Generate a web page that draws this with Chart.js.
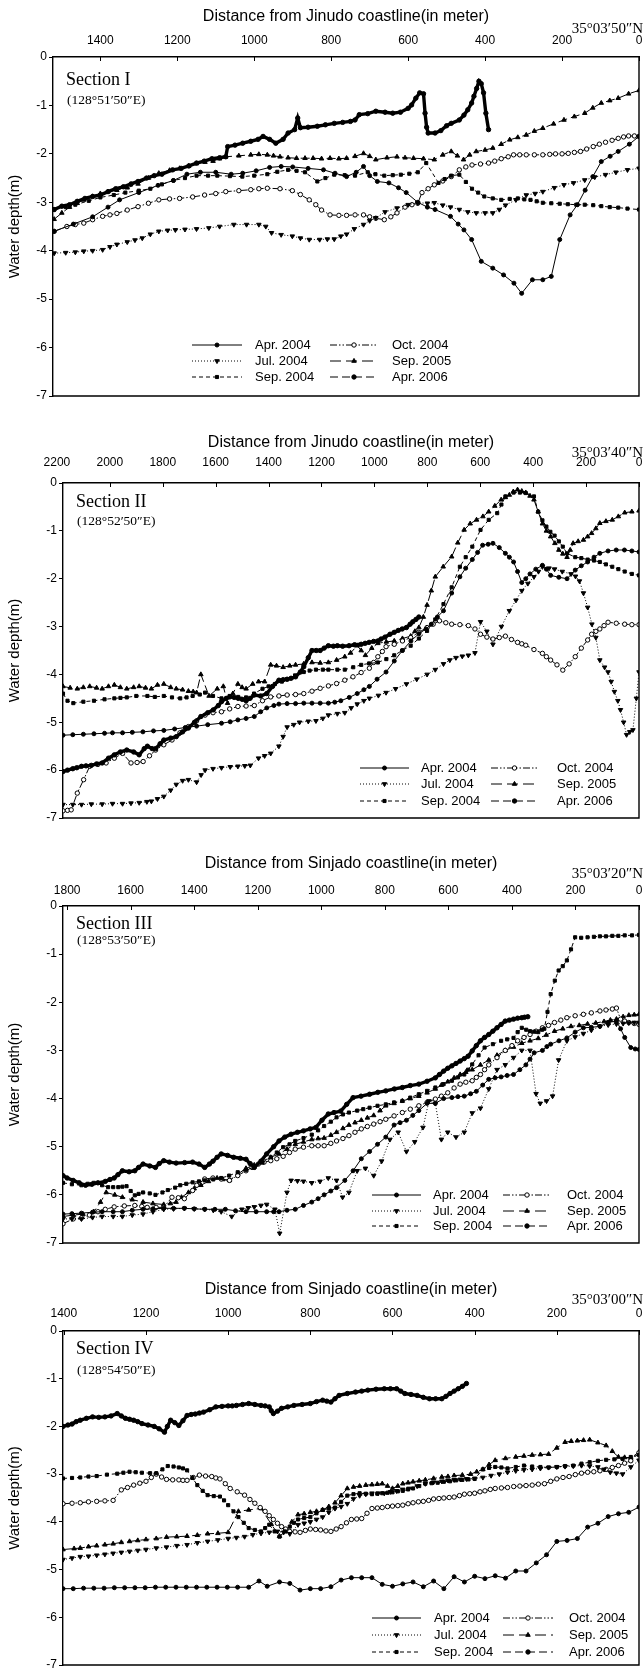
<!DOCTYPE html>
<html>
<head>
<meta charset="utf-8">
<script src="https://cdn.jsdelivr.net/npm/chart.js@4.4.1/dist/chart.umd.min.js"></script>
<style>
  html, body { margin: 0; padding: 0; background: #fff; }
  body { width: 644px; height: 1670px; position: relative; overflow: hidden; }
  canvas { position: absolute; left: 0; }
</style>
</head>
<body>
<canvas id="sec1"></canvas>
<canvas id="sec2"></canvas>
<canvas id="sec3"></canvas>
<canvas id="sec4"></canvas>
<script>
// ---- depth profiles: [distance from coastline (m), water depth (m)] ----
const seriesLabels = ['Apr. 2004', 'Jul. 2004', 'Sep. 2004', 'Oct. 2004', 'Sep. 2005', 'Apr. 2006'];
const yTicks = [0, -1, -2, -3, -4, -5, -6, -7];

// Section I
const xTicks1 = [0, 200, 400, 600, 800, 1000, 1200, 1400];
const sec1Apr2004 = [[1520,-3.6],[1470,-3.45],[1420,-3.3],[1380,-3.1],[1350,-2.95],[1300,-2.8],[1250,-2.65],[1210,-2.55],[1175,-2.42],[1140,-2.38],[1100,-2.38],[1060,-2.42],[1030,-2.4],[995,-2.35],[960,-2.28],[930,-2.26],[900,-2.27],[860,-2.3],[820,-2.33],[790,-2.4],[760,-2.47],[735,-2.38],[716,-2.26],[700,-2.45],[680,-2.57],[650,-2.6],[625,-2.7],[605,-2.8],[575,-3.0],[550,-3.1],[530,-3.15],[490,-3.29],[470,-3.45],[455,-3.57],[435,-3.77],[410,-4.22],[380,-4.36],[352,-4.5],[325,-4.67],[305,-4.88],[277,-4.6],[250,-4.6],[228,-4.53],[206,-3.77],[179,-3.26],[160,-3.05],[140,-2.75],[120,-2.47],[98,-2.16],[75,-2.05],[54,-1.95],[25,-1.8],[0,-1.64]];
const sec1Jul2004 = [[1520,-4.05],[1490,-4.04],[1465,-4.03],[1443,-4.01],[1420,-4.0],[1394,-3.98],[1375,-3.92],[1357,-3.87],[1330,-3.82],[1310,-3.78],[1291,-3.74],[1270,-3.66],[1248,-3.6],[1225,-3.58],[1205,-3.57],[1180,-3.56],[1150,-3.55],[1118,-3.53],[1090,-3.5],[1053,-3.46],[1020,-3.46],[988,-3.46],[970,-3.5],[955,-3.63],[930,-3.67],[901,-3.7],[880,-3.74],[857,-3.77],[830,-3.77],[810,-3.76],[792,-3.76],[775,-3.7],[760,-3.66],[740,-3.55],[716,-3.46],[700,-3.38],[684,-3.32],[660,-3.2],[629,-3.12],[600,-3.05],[575,-3.01],[550,-3.02],[532,-3.01],[510,-3.06],[490,-3.1],[467,-3.15],[445,-3.2],[423,-3.22],[400,-3.22],[380,-3.22],[363,-3.15],[347,-3.06],[320,-2.95],[293,-2.85],[270,-2.82],[250,-2.78],[220,-2.7],[195,-2.64],[170,-2.6],[141,-2.54],[115,-2.48],[87,-2.43],[60,-2.38],[30,-2.33],[0,-2.3]];
const sec1Sep2004 = [[1520,-3.15],[1490,-3.1],[1465,-3.05],[1430,-2.97],[1400,-2.9],[1365,-2.85],[1335,-2.8],[1300,-2.76],[1270,-2.72],[1240,-2.63],[1210,-2.55],[1180,-2.5],[1150,-2.45],[1120,-2.45],[1096,-2.45],[1063,-2.46],[1031,-2.47],[1000,-2.45],[966,-2.42],[940,-2.37],[912,-2.33],[890,-2.35],[868,-2.38],[836,-2.57],[815,-2.5],[792,-2.43],[765,-2.44],[738,-2.45],[705,-2.38],[685,-2.42],[662,-2.45],[640,-2.44],[619,-2.43],[597,-2.41],[575,-2.38],[553,-2.19],[521,-2.6],[505,-2.52],[488,-2.45],[467,-2.43],[450,-2.58],[434,-2.72],[418,-2.8],[402,-2.88],[380,-2.92],[358,-2.95],[336,-2.93],[315,-2.92],[298,-2.94],[282,-2.95],[266,-2.98],[250,-3.01],[228,-3.02],[206,-3.03],[185,-3.04],[163,-3.05],[141,-3.05],[119,-3.06],[98,-3.08],[76,-3.1],[54,-3.11],[30,-3.13],[0,-3.15]];
const sec1Oct2004 = [[1520,-3.6],[1487,-3.5],[1465,-3.46],[1443,-3.43],[1420,-3.36],[1394,-3.29],[1375,-3.26],[1357,-3.23],[1330,-3.16],[1302,-3.09],[1275,-3.02],[1248,-2.95],[1220,-2.93],[1194,-2.92],[1160,-2.89],[1129,-2.85],[1100,-2.82],[1074,-2.78],[1040,-2.76],[1009,-2.74],[988,-2.72],[966,-2.71],[933,-2.72],[901,-2.76],[880,-2.84],[857,-2.95],[840,-3.05],[825,-3.16],[803,-3.26],[780,-3.27],[760,-3.27],[738,-3.26],[716,-3.26],[700,-3.3],[684,-3.33],[662,-3.36],[645,-3.3],[629,-3.22],[608,-3.1],[590,-3.05],[575,-3.02],[564,-2.8],[548,-2.72],[532,-2.64],[510,-2.56],[488,-2.47],[467,-2.33],[450,-2.27],[434,-2.23],[412,-2.21],[391,-2.19],[375,-2.15],[358,-2.1],[340,-2.06],[326,-2.02],[310,-2.02],[293,-2.02],[272,-2.02],[250,-2.02],[232,-2.01],[217,-2.0],[200,-2.0],[184,-1.99],[168,-1.97],[152,-1.95],[136,-1.9],[119,-1.85],[103,-1.8],[87,-1.76],[70,-1.72],[54,-1.68],[40,-1.65],[27,-1.63],[12,-1.63],[0,-1.64]];
const sec1Sep2005 = [[1520,-3.35],[1500,-3.22],[1480,-3.1],[1460,-3.02],[1443,-2.95],[1420,-2.88],[1400,-2.82],[1380,-2.78],[1357,-2.75],[1330,-2.7],[1302,-2.62],[1275,-2.5],[1248,-2.4],[1220,-2.34],[1194,-2.3],[1170,-2.25],[1150,-2.2],[1128,-2.17],[1107,-2.15],[1090,-2.1],[1074,-2.06],[1040,-2.04],[1009,-2.02],[988,-2.01],[966,-2.02],[950,-2.04],[933,-2.06],[912,-2.08],[890,-2.09],[868,-2.09],[847,-2.09],[825,-2.1],[803,-2.09],[780,-2.1],[760,-2.09],[738,-2.05],[716,-1.99],[700,-2.05],[684,-2.12],[655,-2.08],[629,-2.06],[608,-2.08],[586,-2.09],[560,-2.1],[532,-2.12],[510,-2.02],[488,-1.95],[472,-2.04],[456,-2.12],[440,-2.02],[423,-1.95],[400,-1.92],[380,-1.88],[358,-1.8],[336,-1.71],[315,-1.66],[293,-1.61],[272,-1.53],[250,-1.47],[222,-1.38],[195,-1.3],[168,-1.23],[141,-1.16],[120,-1.05],[98,-0.95],[76,-0.9],[54,-0.85],[27,-0.76],[0,-0.69]];
const sec1Apr2006 = [[1520,-3.15],[1500,-3.08],[1480,-3.05],[1460,-2.98],[1440,-2.92],[1420,-2.88],[1400,-2.85],[1380,-2.78],[1360,-2.72],[1340,-2.68],[1320,-2.62],[1302,-2.57],[1280,-2.5],[1260,-2.45],[1240,-2.42],[1212,-2.33],[1190,-2.3],[1170,-2.25],[1150,-2.19],[1130,-2.15],[1110,-2.1],[1090,-2.08],[1074,-2.06],[1069,-1.85],[1050,-1.82],[1030,-1.78],[1009,-1.74],[990,-1.7],[977,-1.64],[960,-1.7],[944,-1.78],[925,-1.7],[912,-1.57],[895,-1.5],[887,-1.26],[880,-1.46],[860,-1.45],[836,-1.43],[815,-1.4],[792,-1.37],[770,-1.35],[750,-1.33],[738,-1.3],[727,-1.19],[705,-1.17],[684,-1.12],[660,-1.14],[640,-1.16],[620,-1.14],[600,-1.06],[591,-0.99],[580,-0.85],[570,-0.74],[560,-0.76],[556,-1.16],[552,-1.45],[548,-1.57],[530,-1.57],[515,-1.52],[500,-1.42],[488,-1.37],[467,-1.3],[455,-1.2],[445,-1.09],[435,-0.95],[429,-0.81],[422,-0.65],[416,-0.5],[410,-0.55],[404,-0.74],[398,-1.16],[391,-1.5]];

// Section II
const xTicks2 = [0, 200, 400, 600, 800, 1000, 1200, 1400, 1600, 1800, 2000, 2200];
const sec2Apr2004 = [[2177,-5.27],[2140,-5.26],[2100,-5.25],[2060,-5.24],[2020,-5.23],[1990,-5.22],[1952,-5.22],[1915,-5.21],[1875,-5.2],[1835,-5.18],[1796,-5.17],[1755,-5.14],[1715,-5.11],[1672,-5.08],[1630,-5.05],[1578,-5.02],[1545,-4.99],[1516,-4.95],[1485,-4.92],[1454,-4.88],[1430,-4.78],[1407,-4.7],[1380,-4.65],[1361,-4.62],[1330,-4.61],[1298,-4.61],[1267,-4.6],[1236,-4.6],[1205,-4.6],[1174,-4.6],[1150,-4.58],[1127,-4.55],[1095,-4.48],[1065,-4.4],[1040,-4.32],[1019,-4.25],[990,-4.1],[956,-3.95],[925,-3.72],[894,-3.5],[862,-3.3],[832,-3.15],[805,-3.05],[785,-2.95],[762,-2.8],[739,-2.67],[708,-2.3],[677,-1.96],[655,-1.78],[630,-1.6],[610,-1.45],[591,-1.3],[570,-1.28],[552,-1.26],[528,-1.35],[505,-1.47],[490,-1.55],[474,-1.65],[459,-1.85],[443,-2.08],[428,-2.0],[412,-1.9],[390,-1.8],[365,-1.72],[350,-1.8],[334,-1.93],[303,-1.97],[272,-2.0],[241,-1.82],[218,-1.73],[194,-1.65],[170,-1.55],[148,-1.47],[117,-1.42],[86,-1.4],[55,-1.4],[27,-1.42],[0,-1.44]];
const sec2Jul2004 = [[2177,-6.72],[2140,-6.72],[2107,-6.72],[2070,-6.71],[2029,-6.71],[1990,-6.7],[1952,-6.7],[1920,-6.69],[1889,-6.68],[1860,-6.66],[1843,-6.65],[1820,-6.6],[1796,-6.55],[1770,-6.42],[1749,-6.3],[1725,-6.22],[1703,-6.2],[1672,-6.25],[1655,-6.1],[1640,-6.0],[1610,-5.97],[1578,-5.95],[1545,-5.93],[1516,-5.92],[1490,-5.91],[1469,-5.9],[1438,-5.75],[1415,-5.7],[1392,-5.65],[1361,-5.5],[1345,-5.3],[1330,-5.1],[1305,-5.05],[1283,-5.0],[1250,-4.98],[1221,-4.97],[1195,-4.92],[1174,-4.85],[1140,-4.82],[1112,-4.8],[1088,-4.7],[1065,-4.62],[1040,-4.55],[1019,-4.5],[985,-4.44],[956,-4.38],[920,-4.3],[879,-4.2],[840,-4.1],[801,-4.0],[770,-3.9],[739,-3.78],[715,-3.7],[692,-3.65],[668,-3.62],[645,-3.6],[620,-3.55],[599,-2.9],[575,-3.1],[552,-3.37],[520,-3.0],[490,-2.67],[465,-2.45],[443,-2.25],[420,-2.1],[397,-1.96],[380,-1.85],[365,-1.75],[340,-1.78],[319,-1.8],[290,-1.85],[257,-1.9],[240,-1.95],[225,-2.05],[210,-2.3],[194,-2.6],[178,-2.95],[163,-3.23],[148,-3.7],[130,-3.85],[117,-3.95],[105,-4.15],[93,-4.36],[80,-4.55],[70,-4.74],[58,-5.0],[47,-5.26],[35,-5.2],[23,-5.16],[10,-4.5],[0,-3.95]];
const sec2Sep2004 = [[2177,-4.4],[2160,-4.55],[2138,-4.6],[2100,-4.57],[2060,-4.55],[2020,-4.52],[1983,-4.5],[1960,-4.49],[1936,-4.48],[1900,-4.45],[1858,-4.45],[1830,-4.47],[1796,-4.45],[1765,-4.48],[1734,-4.5],[1710,-4.48],[1687,-4.45],[1660,-4.42],[1640,-4.38],[1610,-4.45],[1578,-4.5],[1547,-4.45],[1515,-4.47],[1485,-4.48],[1455,-4.4],[1423,-4.3],[1400,-4.25],[1376,-4.2],[1350,-4.15],[1330,-4.1],[1300,-4.02],[1267,-3.95],[1245,-3.92],[1221,-3.9],[1195,-3.9],[1174,-3.9],[1140,-3.9],[1112,-3.9],[1080,-3.85],[1050,-3.8],[1020,-3.77],[987,-3.75],[955,-3.68],[925,-3.6],[895,-3.5],[863,-3.4],[832,-3.25],[801,-3.09],[770,-2.85],[739,-2.53],[708,-2.18],[677,-1.75],[655,-1.55],[630,-1.33],[599,-0.98],[568,-0.77],[536,-0.63],[520,-0.45],[505,-0.28],[474,-0.2],[450,-0.2],[428,-0.21],[397,-0.28],[381,-0.6],[365,-0.78],[350,-0.91],[335,-1.02],[319,-1.1],[303,-1.22],[288,-1.33],[272,-1.47],[241,-1.55],[218,-1.57],[194,-1.6],[170,-1.62],[148,-1.65],[125,-1.7],[101,-1.75],[78,-1.8],[54,-1.85],[27,-1.9],[0,-1.93]];
const sec2Oct2004 = [[2177,-6.85],[2160,-6.84],[2146,-6.83],[2123,-6.48],[2099,-6.2],[2076,-5.92],[2045,-5.88],[2014,-5.85],[1983,-5.75],[1952,-5.65],[1920,-5.85],[1897,-5.84],[1874,-5.82],[1850,-5.7],[1827,-5.58],[1796,-5.47],[1765,-5.37],[1735,-5.22],[1703,-5.09],[1672,-4.97],[1640,-4.85],[1610,-4.8],[1578,-4.78],[1547,-4.72],[1516,-4.67],[1485,-4.66],[1454,-4.65],[1423,-4.55],[1392,-4.47],[1361,-4.45],[1330,-4.43],[1298,-4.42],[1267,-4.4],[1236,-4.35],[1205,-4.29],[1174,-4.24],[1143,-4.19],[1112,-4.12],[1081,-4.05],[1050,-3.96],[1019,-3.87],[1003,-3.75],[987,-3.63],[970,-3.52],[956,-3.42],[925,-3.37],[894,-3.3],[863,-3.23],[832,-3.12],[801,-3.02],[778,-2.95],[754,-2.88],[730,-2.92],[708,-2.95],[677,-2.96],[645,-2.98],[620,-3.05],[599,-3.16],[575,-3.22],[552,-3.26],[528,-3.23],[505,-3.2],[482,-3.27],[459,-3.33],[443,-3.36],[428,-3.39],[397,-3.48],[365,-3.56],[350,-3.63],[334,-3.7],[310,-3.8],[288,-3.91],[264,-3.78],[241,-3.63],[218,-3.45],[194,-3.28],[179,-3.16],[163,-3.1],[148,-3.05],[132,-2.98],[117,-2.91],[86,-2.93],[54,-2.95],[27,-2.96],[0,-2.96]];
const sec2Sep2005 = [[2177,-4.25],[2150,-4.28],[2123,-4.3],[2100,-4.27],[2076,-4.25],[2050,-4.28],[2029,-4.3],[2005,-4.25],[1983,-4.22],[1960,-4.27],[1936,-4.3],[1910,-4.27],[1889,-4.25],[1865,-4.28],[1843,-4.3],[1820,-4.22],[1796,-4.2],[1770,-4.27],[1749,-4.3],[1725,-4.32],[1703,-4.35],[1685,-4.36],[1672,-4.38],[1656,-4.0],[1625,-4.45],[1594,-4.3],[1571,-4.25],[1555,-4.6],[1535,-4.4],[1516,-4.2],[1500,-4.27],[1485,-4.3],[1460,-4.2],[1438,-4.15],[1415,-4.15],[1392,-3.8],[1370,-3.82],[1345,-3.85],[1320,-3.82],[1298,-3.8],[1267,-3.78],[1236,-3.75],[1205,-3.76],[1174,-3.75],[1143,-3.7],[1112,-3.63],[1090,-3.55],[1065,-3.4],[1050,-3.5],[1034,-3.6],[1010,-3.45],[987,-3.35],[955,-3.32],[925,-3.3],[894,-3.25],[863,-3.2],[847,-3.1],[832,-3.02],[815,-2.8],[801,-2.55],[785,-2.25],[770,-1.96],[740,-1.75],[708,-1.54],[685,-1.25],[661,-0.98],[638,-0.85],[614,-0.77],[590,-0.7],[568,-0.6],[545,-0.48],[521,-0.35],[505,-0.3],[490,-0.25],[475,-0.18],[459,-0.14],[443,-0.17],[428,-0.2],[412,-0.27],[397,-0.35],[381,-0.6],[365,-0.85],[350,-1.0],[334,-1.12],[318,-1.26],[303,-1.4],[288,-1.48],[272,-1.55],[260,-1.4],[249,-1.26],[230,-1.22],[210,-1.19],[194,-1.12],[179,-1.05],[163,-0.95],[148,-0.84],[125,-0.8],[101,-0.77],[78,-0.7],[54,-0.62],[27,-0.6],[0,-0.58]];
const sec2Apr2006 = [[2177,-6.03],[2160,-6.0],[2140,-5.97],[2125,-5.95],[2107,-5.92],[2090,-5.91],[2070,-5.9],[2050,-5.87],[2029,-5.85],[2005,-5.75],[1983,-5.68],[1960,-5.62],[1936,-5.58],[1910,-5.62],[1889,-5.68],[1870,-5.55],[1858,-5.5],[1840,-5.55],[1827,-5.55],[1810,-5.45],[1796,-5.37],[1770,-5.33],[1749,-5.3],[1725,-5.2],[1703,-5.12],[1680,-5.0],[1656,-4.88],[1630,-4.8],[1609,-4.74],[1590,-4.65],[1578,-4.57],[1560,-4.5],[1547,-4.47],[1530,-4.48],[1515,-4.5],[1500,-4.52],[1485,-4.55],[1470,-4.5],[1454,-4.43],[1430,-4.45],[1407,-4.4],[1385,-4.25],[1361,-4.12],[1345,-4.11],[1330,-4.1],[1315,-4.08],[1298,-4.05],[1280,-3.95],[1267,-3.84],[1250,-3.65],[1236,-3.5],[1220,-3.5],[1205,-3.5],[1190,-3.45],[1174,-3.4],[1155,-3.41],[1140,-3.4],[1120,-3.41],[1096,-3.4],[1075,-3.38],[1050,-3.37],[1035,-3.35],[1020,-3.33],[1003,-3.31],[987,-3.3],[975,-3.26],[960,-3.22],[941,-3.16],[925,-3.12],[910,-3.08],[895,-3.05],[879,-3.02],[865,-2.95],[855,-2.9],[843,-2.85],[832,-2.8]];

// Section III
const xTicks3 = [0, 200, 400, 600, 800, 1000, 1200, 1400, 1600, 1800];
const sec3Apr2004 = [[1813,-6.4],[1785,-6.39],[1755,-6.38],[1720,-6.36],[1690,-6.35],[1655,-6.35],[1626,-6.35],[1595,-6.32],[1561,-6.3],[1530,-6.29],[1496,-6.28],[1465,-6.28],[1431,-6.28],[1400,-6.29],[1367,-6.3],[1335,-6.3],[1302,-6.3],[1270,-6.33],[1237,-6.35],[1205,-6.35],[1172,-6.35],[1150,-6.35],[1133,-6.35],[1108,-6.32],[1082,-6.3],[1056,-6.22],[1030,-6.15],[1010,-6.08],[991,-6.0],[970,-5.92],[952,-5.85],[926,-5.7],[900,-5.5],[874,-5.25],[848,-5.1],[823,-4.95],[797,-4.8],[771,-4.55],[752,-4.5],[732,-4.45],[712,-4.35],[693,-4.25],[667,-4.1],[641,-4.1],[615,-4.0],[589,-3.98],[570,-3.96],[550,-3.95],[530,-3.9],[512,-3.85],[492,-3.72],[473,-3.6],[453,-3.57],[434,-3.55],[415,-3.52],[395,-3.5],[375,-3.4],[356,-3.3],[343,-3.18],[330,-3.05],[304,-3.0],[290,-2.92],[278,-2.87],[252,-2.8],[227,-2.74],[201,-2.62],[175,-2.53],[150,-2.52],[123,-2.5],[97,-2.42],[71,-2.39],[58,-2.55],[45,-2.73],[26,-2.94],[12,-2.97],[0,-2.98]];
const sec3Jul2004 = [[1813,-6.5],[1785,-6.5],[1755,-6.5],[1720,-6.47],[1690,-6.45],[1655,-6.45],[1626,-6.45],[1595,-6.42],[1561,-6.4],[1530,-6.35],[1496,-6.3],[1465,-6.29],[1431,-6.28],[1400,-6.29],[1367,-6.3],[1340,-6.32],[1315,-6.35],[1282,-6.45],[1250,-6.3],[1230,-6.27],[1211,-6.25],[1190,-6.22],[1172,-6.2],[1146,-6.3],[1131,-6.8],[1108,-5.95],[1095,-5.7],[1075,-5.71],[1056,-5.72],[1030,-5.75],[1004,-5.72],[978,-5.65],[952,-5.7],[933,-6.05],[913,-5.95],[887,-5.5],[861,-5.45],[835,-5.6],[810,-5.3],[784,-4.85],[758,-4.7],[732,-5.1],[706,-4.9],[680,-4.6],[661,-4.05],[641,-4.1],[622,-4.85],[602,-4.7],[576,-4.8],[550,-4.7],[525,-4.3],[499,-4.2],[473,-3.8],[447,-3.4],[421,-3.3],[395,-3.15],[369,-3.0],[343,-3.0],[324,-3.9],[311,-4.1],[291,-4.05],[272,-3.95],[253,-3.2],[227,-2.8],[201,-2.72],[175,-2.65],[150,-2.58],[123,-2.5],[97,-2.47],[71,-2.45],[50,-2.44],[32,-2.43],[15,-2.42],[0,-2.42]];
const sec3Sep2004 = [[1813,-5.75],[1785,-5.78],[1755,-5.8],[1735,-5.77],[1716,-5.75],[1690,-5.8],[1671,-5.84],[1655,-5.84],[1639,-5.84],[1626,-5.83],[1613,-5.82],[1600,-5.92],[1587,-6.01],[1575,-5.98],[1561,-5.95],[1540,-5.97],[1522,-6.0],[1500,-5.95],[1483,-5.9],[1460,-5.85],[1444,-5.8],[1425,-5.77],[1405,-5.74],[1385,-5.72],[1367,-5.7],[1340,-5.68],[1315,-5.65],[1290,-5.6],[1263,-5.53],[1237,-5.48],[1211,-5.43],[1185,-5.33],[1159,-5.22],[1140,-5.12],[1120,-5.01],[1100,-4.95],[1082,-4.88],[1056,-4.82],[1030,-4.75],[1010,-4.66],[991,-4.57],[970,-4.48],[952,-4.39],[932,-4.33],[913,-4.29],[887,-4.25],[868,-4.22],[848,-4.19],[823,-4.15],[797,-4.12],[771,-4.08],[745,-4.05],[720,-3.98],[693,-3.91],[667,-3.84],[641,-3.77],[615,-3.7],[589,-3.63],[570,-3.56],[550,-3.5],[538,-3.4],[525,-3.29],[505,-3.1],[486,-2.94],[460,-2.87],[434,-2.8],[415,-2.77],[395,-2.74],[382,-2.62],[369,-2.53],[355,-2.57],[343,-2.6],[330,-2.61],[317,-2.62],[305,-2.57],[298,-2.55],[288,-2.2],[278,-1.83],[265,-1.55],[253,-1.34],[240,-1.25],[227,-1.13],[214,-0.9],[201,-0.65],[182,-0.66],[162,-0.65],[142,-0.64],[123,-0.63],[104,-0.63],[84,-0.62],[65,-0.62],[45,-0.61],[22,-0.61],[0,-0.6]];
const sec3Oct2004 = [[1813,-6.6],[1781,-6.5],[1755,-6.48],[1730,-6.42],[1703,-6.35],[1680,-6.3],[1652,-6.25],[1620,-6.23],[1587,-6.22],[1565,-6.24],[1548,-6.26],[1520,-6.26],[1496,-6.26],[1470,-6.05],[1450,-6.06],[1431,-6.08],[1405,-5.91],[1392,-5.8],[1367,-5.67],[1341,-5.65],[1315,-5.67],[1289,-5.7],[1263,-5.6],[1237,-5.5],[1218,-5.43],[1198,-5.36],[1180,-5.32],[1159,-5.29],[1140,-5.25],[1120,-5.2],[1100,-5.12],[1082,-5.05],[1056,-5.01],[1030,-4.98],[1010,-4.98],[991,-4.98],[970,-4.93],[952,-4.88],[932,-4.83],[913,-4.77],[894,-4.7],[874,-4.63],[855,-4.58],[835,-4.53],[815,-4.48],[797,-4.43],[771,-4.36],[745,-4.29],[720,-4.22],[693,-4.15],[667,-4.08],[641,-4.01],[622,-3.95],[602,-3.88],[582,-3.78],[563,-3.7],[545,-3.66],[525,-3.63],[512,-3.56],[499,-3.5],[486,-3.4],[473,-3.3],[447,-3.15],[421,-3.0],[400,-2.9],[382,-2.8],[362,-2.73],[343,-2.67],[324,-2.6],[304,-2.53],[285,-2.48],[266,-2.42],[246,-2.37],[227,-2.32],[201,-2.28],[175,-2.25],[150,-2.22],[123,-2.18],[104,-2.16],[84,-2.14],[71,-2.12],[58,-2.35],[45,-2.39],[32,-2.42],[15,-2.44],[0,-2.46]];
const sec3Sep2005 = [[1813,-6.45],[1780,-6.42],[1750,-6.4],[1716,-6.35],[1695,-6.15],[1677,-5.95],[1650,-6.0],[1626,-6.05],[1595,-6.1],[1561,-6.15],[1530,-6.18],[1496,-6.2],[1475,-6.18],[1457,-6.15],[1440,-6.05],[1418,-5.95],[1400,-5.87],[1379,-5.8],[1355,-5.72],[1328,-5.65],[1310,-5.68],[1289,-5.7],[1263,-5.57],[1237,-5.45],[1211,-5.38],[1185,-5.3],[1159,-5.22],[1133,-5.15],[1108,-5.05],[1082,-4.95],[1056,-4.9],[1030,-4.85],[1010,-4.83],[991,-4.82],[970,-4.76],[952,-4.7],[932,-4.62],[913,-4.55],[894,-4.5],[874,-4.45],[855,-4.4],[835,-4.35],[815,-4.25],[797,-4.15],[771,-4.1],[745,-4.05],[720,-4.0],[693,-3.95],[667,-3.88],[641,-3.8],[622,-3.72],[602,-3.65],[582,-3.57],[563,-3.5],[545,-3.45],[525,-3.4],[499,-3.3],[473,-3.2],[447,-3.1],[421,-3.0],[395,-2.93],[369,-2.85],[343,-2.8],[317,-2.75],[292,-2.68],[266,-2.6],[240,-2.55],[214,-2.5],[188,-2.48],[162,-2.45],[136,-2.43],[110,-2.4],[90,-2.37],[71,-2.35],[50,-2.3],[32,-2.27],[15,-2.26],[0,-2.25]];
const sec3Apr2006 = [[1813,-5.6],[1800,-5.65],[1781,-5.7],[1762,-5.75],[1742,-5.8],[1722,-5.78],[1703,-5.75],[1680,-5.72],[1665,-5.68],[1652,-5.65],[1640,-5.58],[1626,-5.5],[1605,-5.52],[1587,-5.5],[1575,-5.43],[1561,-5.36],[1540,-5.4],[1522,-5.43],[1510,-5.35],[1496,-5.29],[1478,-5.32],[1457,-5.34],[1430,-5.33],[1405,-5.32],[1385,-5.36],[1367,-5.43],[1352,-5.36],[1341,-5.3],[1328,-5.22],[1315,-5.15],[1295,-5.18],[1276,-5.22],[1255,-5.24],[1237,-5.26],[1224,-5.35],[1211,-5.43],[1190,-5.3],[1172,-5.15],[1150,-5.0],[1133,-4.88],[1115,-4.8],[1095,-4.74],[1075,-4.7],[1056,-4.67],[1035,-4.63],[1017,-4.6],[998,-4.45],[978,-4.32],[960,-4.29],[939,-4.26],[920,-4.12],[900,-3.98],[875,-3.95],[848,-3.91],[822,-3.87],[797,-3.84],[770,-3.8],[745,-3.77],[720,-3.73],[693,-3.7],[667,-3.64],[641,-3.57],[628,-3.5],[615,-3.43],[602,-3.37],[589,-3.32],[576,-3.27],[563,-3.22],[550,-3.17],[538,-3.12],[525,-3.01],[512,-2.9],[499,-2.8],[486,-2.73],[473,-2.67],[460,-2.6],[447,-2.53],[434,-2.46],[421,-2.39],[408,-2.37],[395,-2.35],[382,-2.33],[369,-2.32],[360,-2.31],[350,-2.3]];

// Section IV
const xTicks4 = [0, 200, 400, 600, 800, 1000, 1200, 1400];
const sec4Apr2004 = [[1402,-5.4],[1377,-5.4],[1352,-5.39],[1327,-5.39],[1302,-5.39],[1277,-5.38],[1252,-5.38],[1227,-5.38],[1202,-5.38],[1177,-5.37],[1152,-5.37],[1127,-5.37],[1102,-5.37],[1077,-5.37],[1052,-5.37],[1027,-5.37],[1002,-5.37],[977,-5.37],[950,-5.37],[925,-5.24],[905,-5.35],[875,-5.26],[850,-5.29],[825,-5.43],[800,-5.4],[775,-5.4],[750,-5.36],[725,-5.22],[700,-5.17],[675,-5.17],[650,-5.17],[625,-5.31],[600,-5.35],[575,-5.3],[550,-5.26],[525,-5.36],[500,-5.24],[475,-5.4],[450,-5.15],[425,-5.26],[400,-5.14],[375,-5.19],[350,-5.13],[325,-5.18],[300,-5.03],[275,-5.03],[250,-4.86],[225,-4.69],[200,-4.41],[175,-4.39],[150,-4.35],[125,-4.11],[100,-4.03],[75,-3.89],[50,-3.83],[25,-3.8],[0,-3.69]];
const sec4Jul2004 = [[1402,-4.79],[1380,-4.76],[1360,-4.73],[1340,-4.72],[1320,-4.7],[1300,-4.68],[1280,-4.66],[1260,-4.64],[1240,-4.62],[1220,-4.6],[1200,-4.58],[1175,-4.55],[1150,-4.53],[1125,-4.5],[1100,-4.48],[1075,-4.44],[1050,-4.41],[1025,-4.38],[1000,-4.35],[980,-4.33],[960,-4.31],[940,-4.27],[920,-4.24],[900,-4.22],[880,-4.2],[865,-4.22],[850,-4.25],[830,-4.06],[815,-4.03],[800,-4.0],[785,-3.95],[770,-3.9],[755,-3.8],[740,-3.72],[725,-3.68],[710,-3.62],[695,-3.52],[680,-3.45],[665,-3.42],[650,-3.4],[635,-3.4],[620,-3.4],[605,-3.37],[590,-3.35],[575,-3.32],[560,-3.3],[540,-3.25],[520,-3.2],[500,-3.17],[480,-3.15],[465,-3.13],[450,-3.12],[435,-3.11],[420,-3.1],[400,-3.09],[380,-3.07],[360,-3.03],[340,-3.0],[320,-2.96],[300,-2.93],[280,-2.91],[260,-2.9],[240,-2.88],[220,-2.86],[200,-2.85],[180,-2.84],[160,-2.83],[140,-2.82],[120,-2.83],[100,-2.85],[85,-2.9],[70,-2.96],[55,-2.98],[40,-3.0],[20,-2.85],[0,-2.71]];
const sec4Sep2004 = [[1402,-3.09],[1380,-3.08],[1360,-3.07],[1340,-3.05],[1320,-3.04],[1295,-3.01],[1270,-2.99],[1255,-2.97],[1240,-2.95],[1225,-2.96],[1210,-2.97],[1190,-2.98],[1175,-2.98],[1160,-2.9],[1147,-2.83],[1133,-2.84],[1120,-2.86],[1110,-2.88],[1100,-2.92],[1087,-3.08],[1075,-3.23],[1062,-3.35],[1050,-3.44],[1035,-3.46],[1020,-3.47],[1010,-3.55],[1000,-3.65],[987,-3.78],[975,-3.9],[962,-4.02],[950,-4.13],[935,-4.17],[920,-4.2],[910,-4.13],[900,-4.06],[887,-4.2],[875,-4.31],[862,-4.2],[850,-4.1],[840,-4.02],[830,-3.95],[815,-3.92],[800,-3.9],[785,-3.82],[770,-3.75],[755,-3.72],[740,-3.7],[725,-3.58],[710,-3.45],[695,-3.42],[680,-3.4],[665,-3.41],[650,-3.42],[637,-3.41],[625,-3.4],[612,-3.39],[600,-3.38],[587,-3.36],[575,-3.35],[562,-3.32],[550,-3.3],[535,-3.25],[520,-3.2],[505,-3.19],[490,-3.18],[475,-3.16],[460,-3.15],[445,-3.13],[430,-3.12],[415,-3.11],[400,-3.1],[380,-2.9],[365,-2.87],[350,-2.85],[335,-2.86],[320,-2.88],[300,-2.85],[280,-2.82],[260,-2.84],[240,-2.85],[220,-2.86],[200,-2.85],[180,-2.83],[160,-2.82],[140,-2.78],[120,-2.75],[100,-2.72],[80,-2.7],[60,-2.69],[40,-2.68],[20,-2.64],[0,-2.6]];
const sec4Oct2004 = [[1402,-3.62],[1380,-3.61],[1360,-3.6],[1340,-3.58],[1320,-3.57],[1300,-3.56],[1280,-3.55],[1260,-3.33],[1245,-3.28],[1230,-3.23],[1215,-3.19],[1200,-3.15],[1187,-3.07],[1175,-3.0],[1162,-3.06],[1150,-3.11],[1135,-3.12],[1120,-3.12],[1110,-3.13],[1100,-3.13],[1085,-3.07],[1070,-3.02],[1055,-3.04],[1040,-3.05],[1030,-3.08],[1020,-3.1],[1007,-3.2],[995,-3.3],[978,-3.37],[960,-3.44],[947,-3.53],[935,-3.61],[922,-3.7],[910,-3.78],[900,-3.87],[890,-3.95],[880,-4.03],[870,-4.1],[860,-4.15],[850,-4.2],[837,-4.21],[825,-4.22],[812,-4.18],[800,-4.15],[787,-4.16],[775,-4.17],[762,-4.19],[750,-4.2],[737,-4.15],[725,-4.1],[712,-4.02],[700,-3.95],[687,-3.94],[675,-3.93],[662,-3.82],[650,-3.72],[637,-3.71],[625,-3.7],[612,-3.68],[600,-3.67],[587,-3.66],[575,-3.65],[562,-3.62],[550,-3.6],[537,-3.58],[525,-3.57],[512,-3.55],[500,-3.52],[487,-3.51],[475,-3.5],[462,-3.49],[450,-3.48],[437,-3.45],[425,-3.42],[412,-3.41],[400,-3.4],[387,-3.37],[375,-3.35],[362,-3.32],[350,-3.3],[335,-3.29],[320,-3.28],[305,-3.26],[290,-3.25],[275,-3.24],[260,-3.23],[245,-3.21],[230,-3.2],[215,-3.15],[200,-3.1],[185,-3.07],[170,-3.05],[155,-3.01],[140,-2.98],[125,-2.96],[110,-2.95],[95,-2.93],[80,-2.9],[65,-2.86],[50,-2.82],[35,-2.77],[20,-2.72],[0,-2.55]];
const sec4Sep2005 = [[1402,-4.58],[1375,-4.56],[1360,-4.55],[1340,-4.52],[1320,-4.5],[1300,-4.48],[1280,-4.46],[1260,-4.43],[1240,-4.41],[1220,-4.39],[1200,-4.37],[1175,-4.35],[1150,-4.32],[1125,-4.31],[1100,-4.3],[1075,-4.28],[1050,-4.25],[1025,-4.24],[1000,-4.22],[975,-3.78],[950,-3.75],[920,-3.72],[895,-4.05],[875,-4.3],[860,-4.2],[845,-4.0],[830,-3.85],[815,-3.83],[800,-3.8],[785,-3.78],[770,-3.75],[755,-3.68],[740,-3.6],[725,-3.45],[710,-3.3],[695,-3.27],[680,-3.25],[665,-3.23],[650,-3.22],[637,-3.21],[625,-3.2],[612,-3.25],[600,-3.3],[587,-3.25],[575,-3.2],[562,-3.18],[550,-3.16],[535,-3.14],[520,-3.12],[500,-3.09],[480,-3.06],[465,-3.05],[450,-3.03],[430,-3.02],[410,-3.0],[395,-2.95],[380,-2.9],[365,-2.8],[350,-2.71],[325,-2.67],[300,-2.64],[280,-2.62],[260,-2.6],[240,-2.59],[220,-2.58],[200,-2.45],[180,-2.33],[165,-2.31],[150,-2.3],[135,-2.29],[120,-2.28],[100,-2.34],[80,-2.4],[65,-2.52],[50,-2.64],[35,-2.65],[20,-2.66],[0,-2.54]];
const sec4Apr2006 = [[1402,-2.0],[1390,-1.97],[1380,-1.95],[1370,-1.9],[1360,-1.87],[1345,-1.83],[1330,-1.8],[1315,-1.81],[1300,-1.8],[1285,-1.78],[1270,-1.73],[1260,-1.78],[1250,-1.83],[1240,-1.85],[1230,-1.87],[1220,-1.9],[1210,-1.94],[1195,-1.97],[1180,-2.0],[1168,-2.05],[1155,-2.12],[1148,-2.0],[1140,-1.87],[1130,-1.92],[1120,-1.98],[1110,-1.88],[1100,-1.77],[1090,-1.75],[1080,-1.74],[1070,-1.72],[1060,-1.7],[1045,-1.65],[1030,-1.59],[1015,-1.58],[1000,-1.57],[990,-1.57],[980,-1.56],[965,-1.54],[950,-1.52],[935,-1.54],[920,-1.56],[910,-1.57],[900,-1.59],[895,-1.67],[890,-1.73],[880,-1.68],[870,-1.62],[855,-1.59],[840,-1.56],[820,-1.54],[800,-1.52],[785,-1.48],[770,-1.45],[760,-1.47],[750,-1.49],[740,-1.42],[730,-1.35],[710,-1.31],[690,-1.28],[675,-1.26],[660,-1.24],[640,-1.22],[620,-1.21],[605,-1.21],[590,-1.21],[580,-1.26],[570,-1.31],[555,-1.33],[540,-1.35],[525,-1.39],[510,-1.42],[495,-1.42],[480,-1.42],[470,-1.37],[460,-1.31],[450,-1.26],[440,-1.21],[430,-1.16],[420,-1.1]];

// ---- line styles per survey (same order as seriesLabels) ----
const seriesStyle = [
  { dash: [], legendDash: [], point: 'circle', radius: 2, fill: '#000', width: 1 },
  { dash: [1, 2], legendDash: [1, 2], point: 'triangle', rotation: 180, radius: 2.6, fill: '#000', width: 1 },
  { dash: [4, 3], legendDash: [4, 3], point: 'rect', radius: 2.2, fill: '#000', width: 1 },
  { dash: [7, 2, 1.5, 2, 1.5, 2], legendDash: [7, 2, 1.5, 2, 1.5, 2], point: 'circle', radius: 2.2, fill: '#fff', width: 1 },
  { dash: [9, 4], legendDash: [11, 5], point: 'triangle', radius: 2.6, fill: '#000', width: 1 },
  { dash: [], legendDash: [8, 4], point: 'circle', radius: 2.2, fill: '#000', width: 3.4 }
];

const SANS = "'Liberation Sans', Arial, sans-serif";
const SERIF = "'Liberation Serif', 'Times New Roman', serif";

// draws the frame, inward top ticks, captions and the inset legend
const sectionFrame = {
  id: 'sectionFrame',
  afterDraw(chart, args, o) {
    const { ctx, chartArea: a, scales: { x } } = chart;
    const off = o.off;
    ctx.save();
    ctx.strokeStyle = '#000';
    ctx.lineWidth = 1.4;
    ctx.beginPath();
    ctx.moveTo(a.right, a.top);
    ctx.lineTo(a.right, a.bottom);
    ctx.lineTo(a.left, a.bottom);
    ctx.stroke();

    ctx.lineWidth = 1;
    o.xTicks.forEach(v => {
      if (v > x.max) return;
      const px = Math.round(x.getPixelForValue(v)) + 0.5;
      ctx.beginPath();
      ctx.moveTo(px, a.top);
      ctx.lineTo(px, a.top + 4);
      ctx.stroke();
    });

    ctx.fillStyle = '#000';
    ctx.textBaseline = 'middle';
    ctx.font = '16px ' + SANS;
    ctx.textAlign = 'center';
    ctx.fillText(o.title, (a.left + a.right) / 2, o.titleY - off);

    ctx.font = '15px ' + SERIF;
    ctx.textAlign = 'right';
    ctx.fillText(o.north, 643, o.northY - off);

    ctx.textAlign = 'left';
    ctx.font = '18px ' + SERIF;
    ctx.fillText(o.section, a.left + 13, o.sectionY - off);
    ctx.font = '13.5px ' + SERIF;
    ctx.fillText(o.coord, a.left + 14, o.coordY - off);

    ctx.save();
    ctx.translate(15, (a.top + a.bottom) / 2);
    ctx.rotate(-Math.PI / 2);
    ctx.textAlign = 'center';
    ctx.font = '15px ' + SANS;
    ctx.fillText('Water depth(m)', 0, 0);
    ctx.restore();

    // inset legend, two columns of three
    ctx.font = '13px ' + SANS;
    chart.data.datasets.forEach((ds, i) => {
      const st = seriesStyle[i];
      const [x0, x1, tx] = o.legendCols[Math.floor(i / 3)];
      const y = o.legendRows[i % 3] - off;
      ctx.strokeStyle = '#000';
      ctx.lineWidth = 1;
      ctx.setLineDash(st.legendDash);
      ctx.beginPath();
      ctx.moveTo(x0, y);
      ctx.lineTo(x1, y);
      ctx.stroke();
      ctx.setLineDash([]);
      ctx.fillStyle = st.fill;
      Chart.helpers.drawPoint(ctx, { pointStyle: st.point, rotation: st.rotation || 0, radius: st.radius, borderWidth: 1 }, (x0 + x1) / 2, y);
      ctx.fillStyle = '#000';
      ctx.textAlign = 'left';
      ctx.fillText(ds.label, tx, y);
    });
    ctx.restore();
  }
};

function buildPanel(p) {
  const canvas = document.getElementById(p.id);
  canvas.width = 644;
  canvas.height = p.canvasH;
  canvas.style.top = p.canvasTop + 'px';
  const off = p.canvasTop;

  const datasets = p.series.map((rows, i) => {
    const st = seriesStyle[i];
    return {
      label: seriesLabels[i],
      data: rows.map(([d, z]) => ({ x: d, y: z })),
      borderColor: '#000',
      backgroundColor: st.fill,
      borderWidth: st.width,
      borderDash: st.dash,
      pointStyle: st.point,
      pointRotation: st.rotation || 0,
      pointRadius: st.radius,
      pointBackgroundColor: st.fill,
      pointBorderColor: '#000',
      pointBorderWidth: 1,
      tension: 0,
      order: i === 5 ? 0 : 1
    };
  });

  new Chart(canvas, {
    type: 'line',
    data: { datasets },
    options: {
      responsive: false,
      animation: false,
      events: [],
      layout: { padding: { top: 0, left: 0, right: 644 - p.right, bottom: p.canvasH - (p.bottom - off) } },
      plugins: {
        legend: { display: false },
        tooltip: { enabled: false },
        sectionFrame: {
          off, xTicks: p.xTicks, title: p.title, titleY: p.titleY, north: p.north, northY: p.northY,
          section: p.section, sectionY: p.sectionY, coord: p.coord, coordY: p.coordY,
          legendCols: p.legendCols, legendRows: p.legendRows
        }
      },
      scales: {
        x: {
          type: 'linear', position: 'top', reverse: true, min: 0, max: p.xMax,
          afterFit(s) { s.height = p.top - off; s.paddingLeft = 0; s.paddingRight = 0; },
          afterBuildTicks(s) { s.ticks = p.xTicks.map(v => ({ value: v })); },
          grid: { drawOnChartArea: false, drawTicks: false },
          border: { color: '#000', width: 1.4 },
          ticks: { autoSkip: false, maxRotation: 0, padding: p.top - p.tickY - 7, color: '#000', font: { family: SANS, size: 12 }, callback: v => String(v) }
        },
        y: {
          type: 'linear', min: -7, max: 0,
          afterFit(s) { s.width = p.left; s.paddingTop = 0; s.paddingBottom = 0; },
          afterBuildTicks(s) { s.ticks = yTicks.map(v => ({ value: v })); },
          grid: { drawOnChartArea: false, tickLength: 4, color: '#000' },
          border: { color: '#000', width: 1.4 },
          ticks: { padding: 2, color: '#000', font: { family: SANS, size: 12 }, callback: v => String(v) }
        }
      }
    },
    plugins: [sectionFrame]
  });
}

buildPanel({
  id: 'sec1', canvasTop: 0, canvasH: 420, top: 57, bottom: 396, left: 53, right: 640, xMax: 1523,
  tickY: 41, titleY: 17, northY: 29, sectionY: 80, coordY: 100,
  xTicks: xTicks1,
  title: 'Distance from Jinudo coastline(in meter)', north: '35°03′50″N',
  section: 'Section I', coord: '(128°51′50″E)',
  legendCols: [[192, 242, 255], [330, 378, 392]], legendRows: [345, 361, 377],
  series: [sec1Apr2004, sec1Jul2004, sec1Sep2004, sec1Oct2004, sec1Sep2005, sec1Apr2006]
});
buildPanel({
  id: 'sec2', canvasTop: 425, canvasH: 410, top: 483, bottom: 818, left: 63, right: 640, xMax: 2177,
  tickY: 463, titleY: 443, northY: 453, sectionY: 502, coordY: 521,
  xTicks: xTicks2,
  title: 'Distance from Jinudo coastline(in meter)', north: '35°03′40″N',
  section: 'Section II', coord: '(128°52′50″E)',
  legendCols: [[360, 409, 421], [491, 538, 557]], legendRows: [768, 784, 801],
  series: [sec2Apr2004, sec2Jul2004, sec2Sep2004, sec2Oct2004, sec2Sep2005, sec2Apr2006]
});
buildPanel({
  id: 'sec3', canvasTop: 845, canvasH: 415, top: 906, bottom: 1243, left: 63, right: 640, xMax: 1813,
  tickY: 891, titleY: 864, northY: 874, sectionY: 924, coordY: 940,
  xTicks: xTicks3,
  title: 'Distance from Sinjado coastline(in meter)', north: '35°03′20″N',
  section: 'Section III', coord: '(128°53′50″E)',
  legendCols: [[372, 421, 433], [503, 551, 567]], legendRows: [1195, 1211, 1226],
  series: [sec3Apr2004, sec3Jul2004, sec3Sep2004, sec3Oct2004, sec3Sep2005, sec3Apr2006]
});
buildPanel({
  id: 'sec4', canvasTop: 1270, canvasH: 400, top: 1331, bottom: 1666, left: 63, right: 640, xMax: 1402,
  tickY: 1314, titleY: 1290, northY: 1300, sectionY: 1349, coordY: 1370,
  xTicks: xTicks4,
  title: 'Distance from Sinjado coastline(in meter)', north: '35°03′00″N',
  section: 'Section IV', coord: '(128°54′50″E)',
  legendCols: [[372, 421, 434], [503, 553, 569]], legendRows: [1618, 1635, 1652],
  series: [sec4Apr2004, sec4Jul2004, sec4Sep2004, sec4Oct2004, sec4Sep2005, sec4Apr2006]
});
</script>
</body>
</html>
